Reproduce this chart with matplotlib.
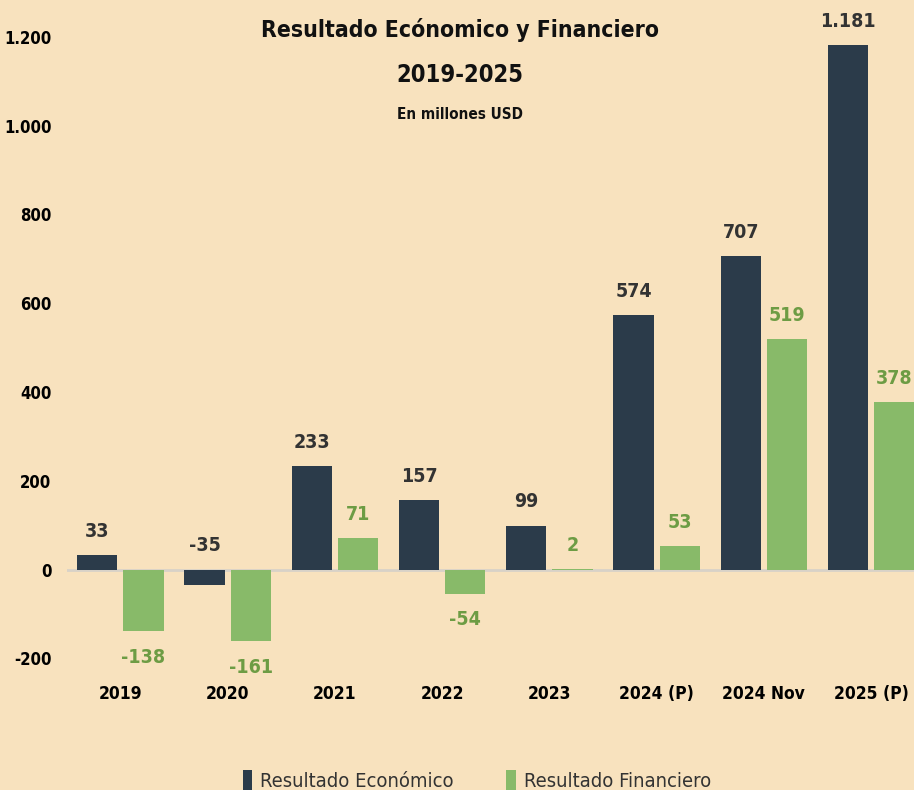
import matplotlib.pyplot as plt
import numpy as np
from matplotlib import font_manager
from matplotlib.font_manager import FontProperties

categories = ["2019", "2020", "2021", "2022", "2023", "2024 (P)", "2024 Nov", "2025 (P)"]
economico = [33, -35, 233, 157, 99, 574, 707, 1181]
financiero = [-138, -161, 71, -54, 2, 53, 519, 378]

BG = "#F8E2BE"
DARK = "#2B3B4A"
GREEN = "#88BA69"
GREEN_TXT = "#6D9C44"

# pick condensed DejaVu files if they exist, the reference uses a narrow sans
files = [f.fname for f in font_manager.fontManager.ttflist]


def pick(key, fallback_weight):
    for fn in files:
        if fn.endswith(key):
            return FontProperties(fname=fn)
    return FontProperties(family="DejaVu Sans", weight=fallback_weight, stretch="condensed")


bold = pick("DejaVuSansCondensed-Bold.ttf", "bold")
regular = pick("DejaVuSansCondensed.ttf", "normal")


def fp(base, size):
    p = base.copy()
    p.set_size(size)
    return p


def fmt(v):
    return f"{v:,}".replace(",", ".")


fig = plt.figure(figsize=(9.14, 7.9), dpi=100, facecolor=BG)
ax = fig.add_axes([0.073, 0.13, 0.927, 0.87])
ax.set_facecolor(BG)

x = np.arange(len(categories))
w = 0.375
off = 0.215
ax.bar(x - off, economico, w, color=DARK, label="Resultado Económico", zorder=3)
ax.bar(x + off, financiero, w, color=GREEN, label="Resultado Financiero", zorder=3)

ax.axhline(0, color="#D8D2C8", lw=2, zorder=2)

lab = fp(bold, 14)
for i in range(len(categories)):
    e = economico[i]
    ax.text(x[i] - off, max(e, 0) + 32, fmt(e), ha="center", va="bottom",
            color="#333333", fontproperties=lab)
    f = financiero[i]
    if f >= 0:
        ax.text(x[i] + off, f + 32, fmt(f), ha="center", va="bottom",
                color=GREEN_TXT, fontproperties=lab)
    else:
        ax.text(x[i] + off, f - 38, fmt(f), ha="center", va="top",
                color=GREEN_TXT, fontproperties=lab)

ax.set_xlim(-0.5, 7.4)
ax.set_ylim(-265, 1283)
ax.set_yticks(range(-200, 1201, 200))
ax.set_yticklabels([fmt(v) for v in range(-200, 1201, 200)], fontproperties=fp(bold, 12))
ax.set_xticks(x)
ax.set_xticklabels(categories, fontproperties=fp(bold, 12.5))
ax.tick_params(axis="y", length=0, pad=11)
ax.tick_params(axis="x", length=0, pad=-2)
for s in ax.spines.values():
    s.set_visible(False)

fig.text(0.503, 0.962, "Resultado Ecónomico y Financiero", ha="center", va="center",
         fontproperties=fp(bold, 16.5), color="#111111")
fig.text(0.503, 0.905, "2019-2025", ha="center", va="center",
         fontproperties=fp(bold, 17), color="#111111")
fig.text(0.503, 0.855, "En millones USD", ha="center", va="center",
         fontproperties=fp(bold, 11), color="#111111")

fig.legend(loc="center", bbox_to_anchor=(0.522, 0.012), ncol=2, frameon=False,
           prop=fp(regular, 14.5), handlelength=0.45, handleheight=1.2, columnspacing=2.6,
           handletextpad=0.4, labelcolor="#333333")

fig.savefig("out.png", dpi=100, facecolor=BG)
